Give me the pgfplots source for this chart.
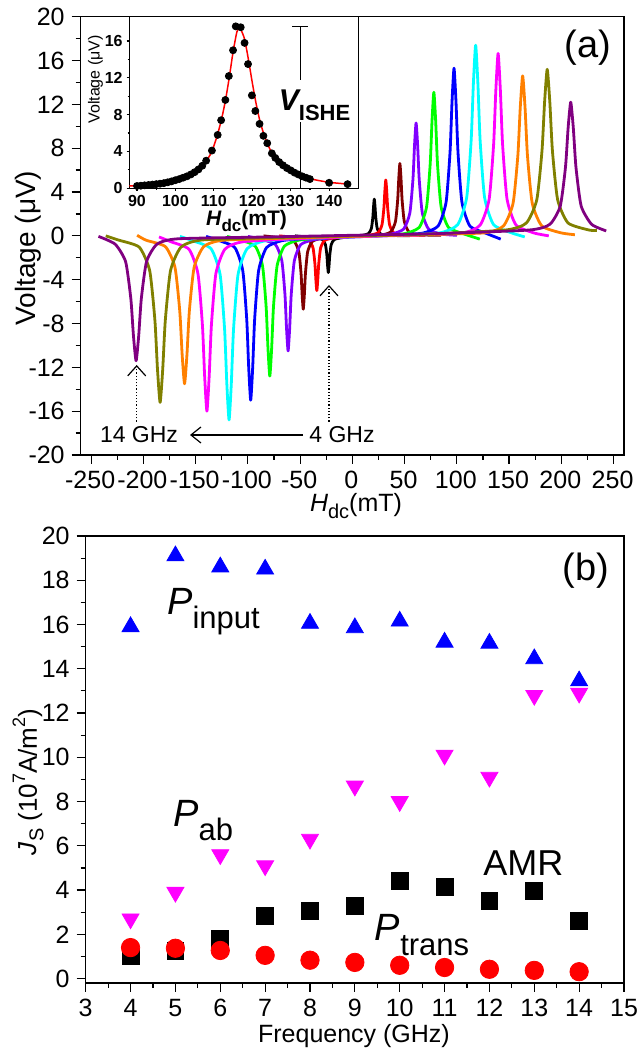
\documentclass[border=0pt]{standalone}
\usepackage{fontspec}
\setmainfont{Liberation Sans}
\usepackage{pgfplots}
\pgfplotsset{compat=1.18}
\usetikzlibrary{arrows.meta}
\newcommand{\fs}[1]{\fontsize{#1}{#1}\selectfont}
\definecolor{cdred}{RGB}{128,0,0}
\definecolor{cviolet}{RGB}{128,0,255}
\definecolor{cgreen}{RGB}{0,255,0}
\definecolor{ccyan}{RGB}{0,255,255}
\definecolor{cmag}{RGB}{255,0,255}
\definecolor{corange}{RGB}{255,128,0}
\definecolor{colive}{RGB}{128,128,0}
\definecolor{cpurple}{RGB}{128,0,128}
\pgfplotsset{
  /pgf/number format/assume math mode=true,
  panel/.style={
    scale only axis, anchor=south west,
    axis line style={line width=0.75pt},
    tick style={line width=0.6pt, black},
    tick align=outside, xtick pos=left, ytick pos=left,
    major tick length=4.5pt, minor tick length=2.5pt,
    minor x tick num=1, minor y tick num=1,
    tick label style={font=\fs{12.5}},
  },
  curve/.style={line width=1.4pt, line join=round, no marks, smooth, tension=0.35},
}
\begin{document}
\begin{tikzpicture}
\path[use as bounding box] (0,0) rectangle (320.5pt,529.5pt);

% ---- panel (a)
\begin{axis}[panel, at={(40.35pt,302pt)}, width=271.65pt, height=219.15pt,
  xmin=-260, xmax=260, ymin=-20, ymax=20,
  xtick={-250,-200,...,250}, ytick={-20,-16,...,20},
  xticklabel style={xshift=-0.5pt}]
\addplot[curve, black] coordinates {(-55,0) (-34.2,-0.20) (-28.6,-0.34) (-25.8,-0.79) (-24.4,-1.75) (-23.7,-2.71) (-23,-3.35) (-22.3,-2.71) (-21.6,-1.75) (-20.2,-0.79) (-17.4,-0.34) (-11.8,-0.2) (0,-0.05) (9.8,0.05) (15.4,0.2) (18.2,0.67) (19.6,1.68) (20.3,2.68) (21,3.35) (21.7,2.68) (22.4,1.68) (23.8,0.67) (26.6,0.2) (32.2,0.05) (55,0)};
\addplot[curve, red] coordinates {(-70,0) (-48.4,-0.22) (-41.2,-0.44) (-37.6,-1.12) (-35.8,-2.58) (-34.9,-4.03) (-34,-5.0) (-33.1,-4.03) (-32.2,-2.58) (-30.4,-1.12) (-26.8,-0.44) (-19.6,-0.22) (0,-0.05) (17.6,0.08) (24.8,0.3) (28.4,1.02) (30.2,2.55) (31.1,4.08) (32,5.1) (32.9,4.08) (33.8,2.55) (35.6,1.02) (39.2,0.3) (46.4,0.08) (70,0.05)};
\addplot[curve, cdred] coordinates {(-85,0) (-63.8,-0.25) (-55.4,-0.54) (-51.2,-1.46) (-49.1,-3.43) (-48.05,-5.39) (-47,-6.7) (-45.95,-5.39) (-44.9,-3.43) (-42.8,-1.46) (-38.6,-0.54) (-30.2,-0.25) (0,-0.05) (28.7,0.1) (37.1,0.39) (41.3,1.32) (43.4,3.3) (44.45,5.28) (45.5,6.6) (46.55,5.28) (47.6,3.3) (49.7,1.32) (53.9,0.39) (62.3,0.1) (85,0.05)};
\addplot[curve, cviolet] coordinates {(-100,-0.05) (-85.5,-0.36) (-73.5,-0.81) (-67.5,-2.26) (-64.5,-5.35) (-63,-8.44) (-61.5,-10.5) (-60,-8.44) (-58.5,-5.35) (-55.5,-2.26) (-49.5,-0.81) (-37.5,-0.36) (-15,-0.15) (0,-0.05) (15,0.0) (37,0.16) (49,0.61) (55,2.06) (58,5.15) (59.5,8.24) (61,10.3) (62.5,8.24) (64,5.15) (67,2.06) (73,0.61) (85,0.16) (100,0.05)};
\addplot[curve, cgreen] coordinates {(-120,-0.05) (-107,-0.39) (-93,-0.94) (-86,-2.72) (-82.5,-6.5) (-80.75,-10.28) (-79,-12.8) (-77.25,-10.28) (-75.5,-6.5) (-72,-2.72) (-65,-0.94) (-51,-0.39) (-25,-0.15) (0,-0.05) (25,0.0) (50,0.2) (64,0.77) (71,2.62) (74.5,6.55) (76.25,10.48) (78,13.1) (79.75,10.48) (81.5,6.55) (85,2.62) (92,0.77) (106,0.2) (122,-0.3)};
\addplot[curve, blue] coordinates {(-140,-0.05) (-127.7,-0.43) (-112.5,-1.07) (-104.9,-3.16) (-101.1,-7.6) (-99.2,-12.04) (-97.3,-15.0) (-95.4,-12.04) (-93.5,-7.6) (-89.7,-3.16) (-82.1,-1.07) (-66.9,-0.43) (-35,-0.2) (0,-0.1) (35,0.05) (66.9,0.24) (82.1,0.9) (89.7,3.06) (93.5,7.65) (95.4,12.24) (97.3,15.3) (99.2,12.24) (101.1,7.65) (104.9,3.06) (112.5,0.9) (127.7,0.24) (142,-0.3)};
\addplot[curve, ccyan] coordinates {(-165,-0.05) (-152.4,-0.46) (-135.2,-1.18) (-126.6,-3.52) (-122.3,-8.5) (-120.15,-13.48) (-118,-16.8) (-115.85,-13.48) (-113.7,-8.5) (-109.4,-3.52) (-100.8,-1.18) (-83.6,-0.46) (-40,-0.2) (0,-0.1) (40,0.05) (83.6,0.27) (100.8,1.02) (109.4,3.48) (113.7,8.7) (115.85,13.92) (118,17.4) (120.15,13.92) (122.3,8.7) (126.6,3.48) (135.2,1.02) (152.4,0.27) (165,-0.1)};
\addplot[curve, cmag] coordinates {(-185,-0.1) (-173.6,-0.54) (-156.4,-1.22) (-147.8,-3.44) (-143.5,-8.15) (-141.35,-12.86) (-139.2,-16.0) (-137.05,-12.86) (-134.9,-8.15) (-130.6,-3.44) (-122,-1.22) (-104.8,-0.54) (-50,-0.25) (0,-0.1) (50,0.05) (105.1,0.26) (122.3,0.98) (130.9,3.33) (135.2,8.33) (137.35,13.32) (139.5,16.65) (141.65,13.32) (143.8,8.33) (148.1,3.33) (156.7,0.98) (173.9,0.26) (188,0.0)};
\addplot[curve, corange] coordinates {(-206,0.05) (-197.4,-0.4) (-179,-0.98) (-169.8,-2.86) (-165.2,-6.85) (-162.9,-10.84) (-160.6,-13.5) (-158.3,-10.84) (-156,-6.85) (-151.4,-2.86) (-142.2,-0.98) (-123.8,-0.4) (-60,-0.2) (0,-0.05) (60,0.1) (126.2,0.27) (144.6,0.9) (153.8,2.96) (158.4,7.33) (160.7,11.69) (163,14.6) (165.3,11.69) (167.6,7.33) (172.2,2.96) (181.4,0.9) (199.8,0.27) (213,0.1)};
\addplot[curve, colive] coordinates {(-236,0.0) (-224,-0.38) (-204,-1.03) (-194,-3.16) (-189,-7.68) (-186.5,-12.19) (-184,-15.2) (-181.5,-12.19) (-179,-7.68) (-174,-3.16) (-164,-1.03) (-144,-0.38) (-70,-0.15) (0,0.0) (70,0.15) (146.5,0.53) (166.5,1.17) (176.5,3.28) (181.5,7.75) (184,12.22) (186.5,15.2) (189,12.22) (191.5,7.75) (196.5,3.28) (206.5,1.17) (226.5,0.53) (234,0.5)};
\addplot[curve, cpurple] coordinates {(-243,-0.05) (-227,-0.76) (-217,-2.36) (-212,-5.75) (-209.5,-9.14) (-207,-11.4) (-204.5,-9.14) (-202,-5.75) (-197,-2.36) (-187,-0.76) (-167,-0.27) (-80,-0.1) (0,0.05) (80,0.2) (169,0.53) (189,1.05) (199,2.72) (204,6.28) (206.5,9.83) (209,12.2) (211.5,9.83) (214,6.28) (219,2.72) (229,1.05) (243,0.45)};
\end{axis}

% ---- inset
\begin{axis}[panel, at={(64.65pt,435.35pt)}, width=114.7pt, height=85.8pt,
  axis background/.style={fill=white},
  xmin=88, xmax=147.7, ymin=0, ymax=18.65,
  xtick={90,100,...,140}, ytick={0,4,...,16},
  major tick length=1.3pt, minor tick length=0.8pt,
  tick label style={font=\bfseries\fs{8}},
  xticklabel style={yshift=1.5pt}, yticklabel style={xshift=1.5pt}]
\addplot[only marks, mark=*, mark size=1.75pt, black] coordinates {(90,0.25) (91,0.28) (92,0.32) (93,0.36) (94,0.4) (95,0.45) (96,0.5) (97,0.56) (98,0.65) (99,0.75) (100,0.88) (101,1.0) (102,1.15) (103,1.3) (104,1.5) (105,1.75) (106,2.05) (107,2.45) (108,3.0) (109.5,4.1) (111,5.8) (111.9,7.4) (113,9.6) (113.9,12.2) (115,15.0) (115.7,17.6) (117,17.5) (118,15.8) (118.9,13.5) (119.9,10.1) (120.8,8.4) (121.9,7.0) (122.9,5.7) (123.9,4.9) (125.1,3.8) (126,3.3) (127,2.85) (128,2.5) (129,2.2) (130,1.95) (131,1.7) (132,1.5) (133,1.3) (134,1.15) (135,1.0) (140,0.6) (144.8,0.45)};
\addplot[red, line width=0.75pt, no marks, smooth, tension=0.4] coordinates {(88,0.25) (90,0.3) (95,0.45) (100,0.8) (103,1.2) (105,1.65) (107,2.4) (109,3.6) (110,4.6) (111,5.9) (112,7.5) (113,9.5) (114,12.0) (115,14.8) (116,17.0) (116.6,17.4) (117,17.3) (118,16.2) (119,14.0) (120,11.5) (121,9.2) (122,7.3) (123,5.9) (124,4.8) (125,3.95) (127,2.8) (130,1.85) (133,1.3) (136,0.95) (140,0.65) (145,0.45)};
\draw[line width=0.75pt] (axis cs:132.5,17.6) -- (axis cs:132.5,11.8)
  (axis cs:132.5,7.2) -- (axis cs:132.5,0)
  (axis cs:130.4,17.6) -- (axis cs:134.6,17.6)
  (axis cs:130.4,0) -- (axis cs:134.6,0);
\end{axis}

% ---- panel (b)
\begin{axis}[panel, at={(42.85pt,38pt)}, width=269.15pt, height=223.5pt,
  xmin=3, xmax=15, ymin=-0.2, ymax=20, clip=false,
  xtick={3,4,...,15}, ytick={0,2,...,20}]
\addplot[only marks, mark=triangle*, mark size=4.9pt, blue, mark options={draw=none}] coordinates {(4,15.9) (5,19.1) (6,18.6) (7,18.5) (8,16.05) (9,15.85) (10,16.15) (11,15.2) (12,15.15) (13,14.45) (14,13.45)};
\addplot[only marks, mark=triangle*, mark size=4.9pt, cmag, mark options={draw=none, rotate=180}] coordinates {(4,2.7) (5,3.9) (6,5.6) (7,5.1) (8,6.3) (9,8.7) (10,8.0) (11,10.1) (12,9.1) (13,12.8) (14,12.9)};
\addplot[only marks, mark=square*, mark size=4.2pt, black] coordinates {(4,1.0) (5,1.25) (6,1.8) (7,2.85) (8,3.05) (9,3.3) (10,4.4) (11,4.15) (12,3.5) (13,3.95) (14,2.6)};
\addplot[only marks, mark=*, mark size=4.6pt, red, mark options={draw=none}] coordinates {(4,1.4) (5,1.37) (6,1.27) (7,1.05) (8,0.83) (9,0.73) (10,0.6) (11,0.5) (12,0.42) (13,0.37) (14,0.31)};
\end{axis}

% ---- labels
\node[rotate=90, font=\fs{14}] at (14pt,405.5pt) {Voltage (μV)};
\node[anchor=base, font=\fs{12.5}] at (178pt,273.5pt) {\textit{H}\raisebox{-0.25em}{\fs{10}dc}(mT)};
\node[font=\fs{19}] at (294pt,505.5pt) {(a)};
\node[font=\fs{11.5}] at (69.5pt,312pt) {14 GHz};
\node[font=\fs{11.5}] at (171pt,312pt) {4 GHz};
\draw[line width=0.6pt, -{Straight Barb[length=5pt,width=8pt]}] (151.5pt,312pt) -- (95pt,312pt);
\draw[line width=0.6pt, densely dotted, -{Straight Barb[length=5pt,width=9pt]}] (68.35pt,318.65pt) -- (68.35pt,347pt);
\draw[line width=0.6pt, densely dotted, -{Straight Barb[length=5pt,width=9pt]}] (164.5pt,318.65pt) -- (164.5pt,387pt);
\node[rotate=90, font=\fs{8}] at (47.75pt,489.75pt) {Voltage (μV)};
\node[font=\bfseries\fs{10.5}] at (123.25pt,419pt) {\textit{H}\raisebox{-0.25em}{\fs{8.5}dc}(mT)};
\node[anchor=base west, inner sep=0pt, font=\bfseries] at (139.25pt,474pt) {\itshape\fs{15}V\upshape\fs{11}\raisebox{-0.41em}{ISHE}};

\node[rotate=90, font=\fs{13}] at (14pt,138.5pt) {\textit{J}\raisebox{-0.25em}{\fs{10}S} (10\raisebox{0.45em}{\fs{9}7}A/m\raisebox{0.45em}{\fs{9}2})};
\node[font=\fs{12.5}] at (177pt,11.5pt) {Frequency (GHz)};
\node[font=\fs{19}] at (293pt,244pt) {(b)};
\node[anchor=base west, inner sep=0pt] at (83.4pt,222pt) {\fs{19}\textit{P}\fs{15.5}\raisebox{-7pt}{input}};
\node[anchor=base west, inner sep=0pt] at (86.4pt,116pt) {\fs{19}\textit{P}\fs{15.5}\raisebox{-7pt}{ab}};
\node[anchor=base west, inner sep=0pt, font=\fs{18}] at (241.5pt,91.5pt) {AMR};
\node[anchor=base west, inner sep=0pt] at (187.25pt,59.25pt) {\fs{19}\textit{P}\fs{15.5}\raisebox{-7.5pt}{trans}};
\end{tikzpicture}
\end{document}
